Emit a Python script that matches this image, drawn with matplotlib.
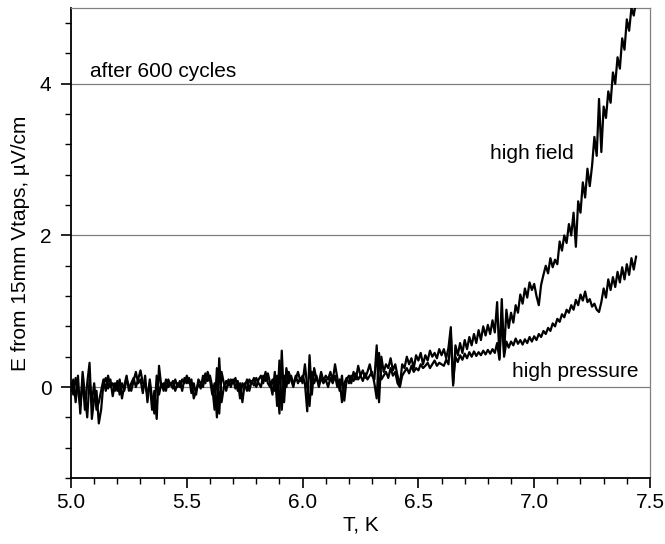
import numpy as np
import matplotlib.pyplot as plt
from matplotlib.ticker import MultipleLocator

# ----------------------------------------------------------------------
# data read off the reference (T in K, E in uV/cm), sampled every 0.01 K
# ----------------------------------------------------------------------
t_start = 5.0
t_step = 0.01

field_e = [
    # 5.00 .. 6.60, both runs overlap here
    0.05, -0.10, 0.12, -0.05, -0.25, 0.10, -0.30, 0.05, 0.32, -0.42,
    -0.15, -0.05, -0.48, -0.30, 0.05, 0.12, -0.02, 0.10, -0.12, 0.05,
    -0.05, 0.10, -0.15, 0.02, 0.15, -0.05, 0.05, 0.12, 0.00, 0.10,
    0.22, 0.05, 0.02, -0.10, 0.05, -0.30, -0.05, -0.42, 0.28, 0.00,
    0.05, -0.05, 0.10, 0.02, 0.08, -0.05, 0.05, 0.00, 0.10, 0.05,
    0.15, 0.05, 0.10, -0.15, -0.05, 0.05, -0.02, 0.15, 0.05, 0.20,
    0.10, -0.10, 0.05, -0.40, 0.38, -0.20, 0.00, 0.08, 0.02, 0.10,
    0.05, 0.12, -0.05, 0.05, -0.20, 0.05, -0.05, 0.10, 0.05, 0.12,
    0.00, 0.10, 0.15, 0.05, 0.20, 0.05, 0.00, 0.10, -0.05, 0.15,
    -0.35, 0.48, -0.20, 0.25, 0.05, 0.15, 0.05, 0.10, 0.20, 0.08,
    0.15, 0.05, -0.32, 0.42, -0.10, 0.25, 0.10, 0.05, 0.20, 0.08,
    0.15, 0.10, 0.20, 0.08, 0.30, 0.12, -0.05, 0.15, -0.18, 0.10,
    0.15, 0.05, 0.20, 0.10, 0.28, 0.15, 0.22, 0.12, 0.20, 0.30,
    0.15, 0.10, 0.55, -0.20, 0.40, 0.20, 0.30, 0.25, 0.38, 0.22,
    0.30, 0.15, 0.02, 0.30, 0.25, 0.40, 0.30, 0.38, 0.25, 0.42,
    0.35, 0.45, 0.30, 0.42, 0.35, 0.48, 0.40, 0.45, 0.38, 0.50,
    0.42,
    # 6.61 .. 7.44, high field run
    0.50, 0.38, 0.52, 0.79, 0.02, 0.55, 0.42, 0.58, 0.45, 0.62,
    0.50, 0.66, 0.55, 0.70, 0.58, 0.75, 0.62, 0.80, 0.68, 0.82,
    0.70, 0.88, 0.72, 1.12, 0.38, 1.16, 0.45, 1.02, 0.78, 0.98,
    0.85, 1.08, 0.98, 1.22, 1.10, 1.30, 1.18, 1.38, 1.28, 1.36,
    1.20, 1.08, 1.35, 1.48, 1.60, 1.50, 1.70, 1.58, 1.68, 1.62,
    1.92, 1.80, 2.00, 1.90, 2.15, 2.00, 2.30, 1.85, 2.45, 2.30,
    2.70, 2.50, 2.88, 2.65, 2.92, 3.30, 3.05, 3.80, 3.10, 3.70,
    3.55, 3.90, 3.75, 4.15, 4.00, 4.35, 4.20, 4.60, 4.45, 4.85,
    4.70, 5.00, 4.90, 5.10,
]

pressure_e = [
    # 5.00 .. 6.60
    -0.05, 0.10, -0.20, 0.15, -0.35, 0.20, -0.10, -0.40, 0.10, -0.20,
    0.05, -0.30, -0.20, -0.05, 0.10, -0.05, 0.15, 0.00, 0.05, -0.05,
    0.08, -0.10, 0.05, -0.05, 0.10, 0.02, -0.05, 0.08, 0.20, 0.05,
    0.10, -0.08, 0.15, -0.20, 0.10, -0.15, -0.35, 0.15, -0.10, 0.05,
    -0.05, 0.10, 0.00, 0.05, -0.02, 0.10, 0.00, 0.08, -0.05, 0.12,
    0.05, 0.12, -0.08, 0.05, -0.10, 0.10, 0.05, 0.00, 0.18, 0.08,
    0.15, 0.00, -0.30, 0.25, -0.35, 0.20, 0.05, -0.05, 0.10, 0.00,
    0.10, -0.02, 0.08, -0.15, 0.05, 0.00, 0.10, -0.05, 0.08, 0.02,
    0.12, 0.05, 0.00, 0.15, 0.08, 0.18, 0.05, -0.10, 0.20, -0.25,
    0.35, -0.30, 0.15, 0.00, 0.20, 0.10, 0.00, 0.15, 0.05, 0.12,
    0.05, 0.30, 0.00, -0.25, 0.20, 0.05, 0.15, 0.00, 0.12, 0.05,
    0.10, 0.00, 0.12, 0.05, 0.15, 0.00, 0.10, -0.20, 0.05, 0.12,
    0.05, 0.15, 0.08, 0.18, 0.10, 0.15, 0.08, 0.18, 0.10, 0.15,
    0.20, 0.05, -0.15, 0.45, 0.10, 0.15, 0.20, 0.12, 0.25, 0.15,
    0.20, 0.05, 0.00, 0.15, 0.20, 0.25, 0.18, 0.28, 0.20, 0.25,
    0.22, 0.30, 0.25, 0.28, 0.32, 0.25, 0.30, 0.35, 0.28, 0.32,
    0.30,
    # 6.61 .. 7.44, high pressure run
    0.28, 0.36, 0.30, 0.70, 0.05, 0.40, 0.33, 0.42, 0.36, 0.44,
    0.38, 0.46, 0.40, 0.47, 0.41, 0.46, 0.42, 0.48, 0.43, 0.49,
    0.44, 0.50, 0.45, 0.58, 0.36, 0.95, 0.40, 0.60, 0.52, 0.60,
    0.55, 0.64, 0.57, 0.62, 0.56, 0.63, 0.58, 0.66, 0.60, 0.67,
    0.62, 0.70, 0.66, 0.74, 0.70, 0.78, 0.74, 0.84, 0.80, 0.90,
    0.86, 0.96, 0.92, 1.02, 0.98, 1.08, 1.02, 1.15, 1.08, 1.22,
    1.14, 1.26, 1.12, 1.16, 1.06, 1.10, 1.02, 0.99, 1.12, 1.30,
    1.18, 1.42, 1.28, 1.45, 1.32, 1.52, 1.38, 1.58, 1.42, 1.62,
    1.48, 1.70, 1.55, 1.72,
]

grid_levels = [0, 2, 4]

labels = {
    "after 600 cycles": (5.082, 4.16),
    "high field": (6.81, 3.08),
    "high pressure": (6.904, 0.20),
}

# ----------------------------------------------------------------------
plt.rcParams.update({
    "font.family": ["Liberation Sans", "DejaVu Sans"],
    "font.size": 14,
})

fig = plt.figure(figsize=(6.65, 5.44), dpi=100)
ax = fig.add_axes([0.1068, 0.1213, 0.8706, 0.864])

for lv in grid_levels:
    ax.axhline(lv, color="#808080", lw=0.9, zorder=1)

t_field = t_start + t_step * np.arange(len(field_e))
t_press = t_start + t_step * np.arange(len(pressure_e))

ax.plot(t_press, pressure_e, color="black", lw=1.6, zorder=2)
ax.plot(t_field, field_e, color="black", lw=1.6, zorder=3)

for txt, (x, y) in labels.items():
    ax.text(x, y, txt, fontsize=15, ha="left", va="center")

ax.set_xlim(5.0, 7.5)
ax.set_ylim(-1.2, 5.0)
ax.xaxis.set_major_locator(MultipleLocator(0.5))
ax.xaxis.set_minor_locator(MultipleLocator(0.1))
ax.yaxis.set_major_locator(MultipleLocator(2))
ax.yaxis.set_minor_locator(MultipleLocator(0.4))
ax.xaxis.set_major_formatter(plt.FormatStrFormatter("%.1f"))

ax.tick_params(which="major", direction="out", length=7, width=1.2,
               labelsize=15)
ax.tick_params(axis="x", which="major", pad=4)
ax.tick_params(axis="y", which="major", pad=7)
ax.tick_params(which="minor", direction="out", length=4, width=1.0)
ax.tick_params(top=False, right=False)

for side in ["left", "bottom"]:
    ax.spines[side].set_linewidth(1.3)
for side in ["top", "right"]:
    ax.spines[side].set_color("#808080")
    ax.spines[side].set_linewidth(0.9)

ax.set_xlabel("T, K", fontsize=15, labelpad=2)
ax.set_ylabel("E from 15mm Vtaps, \u00b5V/cm", fontsize=15, labelpad=7)

plt.savefig("out.png", dpi=100)
